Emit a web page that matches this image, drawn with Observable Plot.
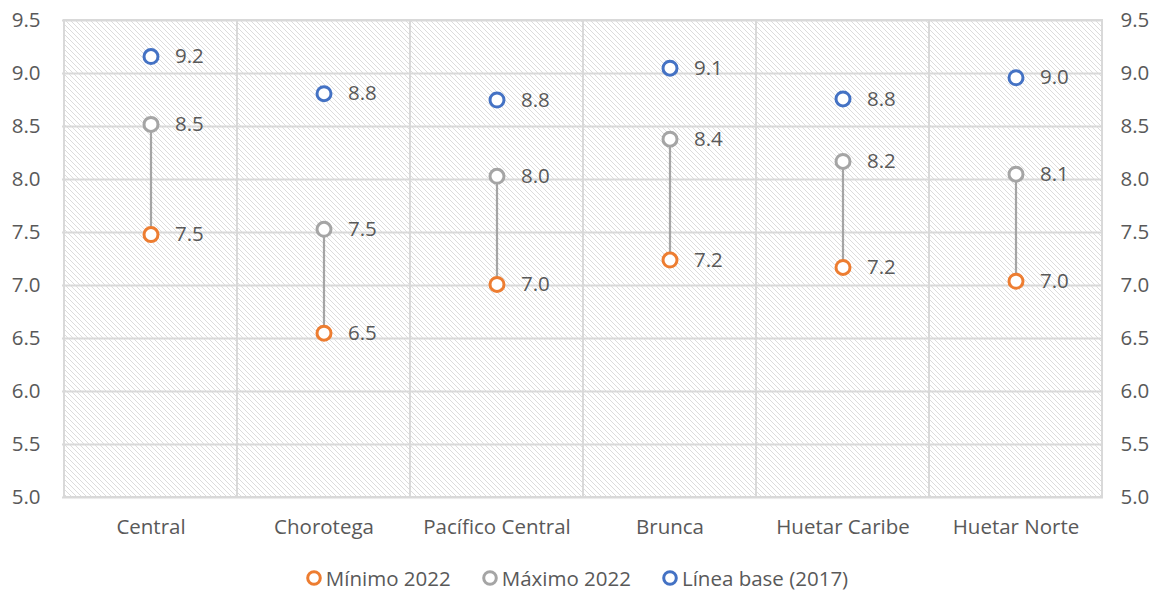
<!DOCTYPE html>
<html><head><meta charset="utf-8">
<script src="https://cdn.jsdelivr.net/npm/d3@7"></script>
<script src="https://cdn.jsdelivr.net/npm/@observablehq/plot@0.6"></script>
<style>
body{margin:0;background:#fff;font-family:"Open Sans",sans-serif;}
#legend{display:flex;justify-content:center;align-items:center;gap:30px;font-size:20.5px;color:#595959;height:40px;margin-top:8px;padding-right:4px;}
#legend span{display:flex;align-items:center;gap:3px;}
</style></head><body>
<div id="chart"></div>
<div id="legend"></div>
<script>
const regions = ["Central","Chorotega","Pacífico Central","Brunca","Huetar Caribe","Huetar Norte"];
const minimo2022 = [7.48, 6.55, 7.01, 7.24, 7.17, 7.04];
const maximo2022 = [8.52, 7.53, 8.03, 8.38, 8.17, 8.05];
const lineaBase  = [9.16, 8.81, 8.75, 9.05, 8.76, 8.96];
const yTicks = [5.0,5.5,6.0,6.5,7.0,7.5,8.0,8.5,9.0,9.5];
const seriesNames = ["Mínimo 2022","Máximo 2022","Línea base (2017)"];
const seriesColors = ["#ED7D31","#A5A5A5","#4472C4"];

const rows = regions.map((r,i)=>({region:r,min:minimo2022[i],max:maximo2022[i],base:lineaBase[i]}));
const pts = [];
rows.forEach(d=>{
  pts.push({region:d.region,v:d.min,s:seriesNames[0]});
  pts.push({region:d.region,v:d.max,s:seriesNames[1]});
  pts.push({region:d.region,v:d.base,s:seriesNames[2]});
});

const txt = "#595959";
const grid = "#d9d9d9";
const fs = 20.5;
const plot = Plot.plot({
  width:1157, height:550,
  marginLeft:62, marginRight:54, marginTop:20, marginBottom:53,
  style:{fontFamily:"'Open Sans',sans-serif", fontSize:fs+"px", color:txt},
  x:{domain:regions, padding:0, label:null},
  y:{domain:[5,9.5], label:null},
  color:{domain:seriesNames, range:seriesColors},
  marks:[
    Plot.cell(regions,{x:d=>d, fill:"url(#hatch)", stroke:grid, strokeWidth:2, inset:0}),
    Plot.ruleY(yTicks,{stroke:grid, strokeWidth:2}),
    Plot.axisY({anchor:"left", ticks:yTicks, tickFormat:d=>d.toFixed(1), tickSize:0, tickPadding:22, fontSize:fs, fill:txt}),
    Plot.axisY({anchor:"right", ticks:yTicks, tickFormat:d=>d.toFixed(1), tickSize:0, tickPadding:17, fontSize:fs, fill:txt}),
    Plot.axisX({tickSize:0, tickPadding:22, fontSize:fs, fill:txt}),
    Plot.ruleX(rows,{x:"region", y1:"min", y2:"max", stroke:"#A5A5A5", strokeWidth:2.2}),
    Plot.dot(pts,{x:"region", y:"v", r:7, stroke:"s", strokeWidth:3, fill:"white"}),
    Plot.text(pts,{x:"region", y:"v", text:d=>d.v.toFixed(1), dx:24, textAnchor:"start", fontSize:fs, fill:txt})
  ]
});
const svgNS="http://www.w3.org/2000/svg";
const defs=document.createElementNS(svgNS,"defs");
defs.innerHTML='<pattern id="hatch" patternUnits="userSpaceOnUse" width="5" height="5"><path d="M0,0 L5,5 M-1,4 L1,6 M4,-1 L6,1" stroke="#dcdcdc" stroke-width="1"/></pattern>';
plot.insertBefore(defs, plot.firstChild);
document.getElementById("chart").appendChild(plot);

const lg=document.getElementById("legend");
seriesNames.forEach((n,i)=>{
  const s=document.createElement("span");
  s.innerHTML=`<svg width="18" height="18"><circle cx="9" cy="9" r="6.3" fill="white" stroke="${seriesColors[i]}" stroke-width="3"/></svg>${n}`;
  lg.appendChild(s);
});
</script></body></html>
